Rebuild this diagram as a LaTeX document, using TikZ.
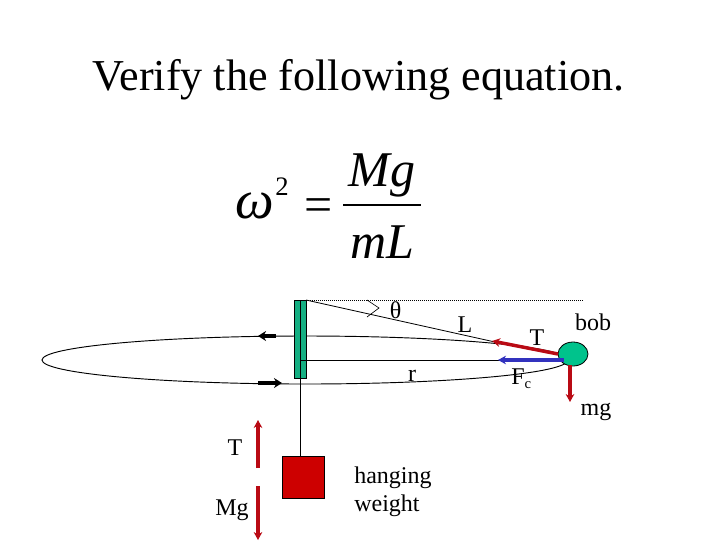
\documentclass[tikz,border=0pt]{standalone}
\usepackage{fontspec}
\setmainfont{Liberation Serif}
\usepackage{tikz}
\usetikzlibrary{calc,arrows.meta,shapes.geometric}
\definecolor{polegreen}{RGB}{20,175,130}
\definecolor{bobgreen}{RGB}{0,195,140}
\definecolor{forcered}{RGB}{185,10,20}
\definecolor{weightred}{RGB}{205,0,0}
\definecolor{forceblue}{RGB}{50,50,190}
\tikzset{
  lbl/.style={inner sep=0pt,font=\fontsize{18}{21}\selectfont},
  eqn/.style={inner sep=0pt,font=\fontsize{37.5}{40}\selectfont\itshape},
  force/.style={line width=2.6pt,-{Stealth[length=6pt,width=6.5pt]}},
  spin/.style={line width=2.5pt,black,-{Stealth[length=6pt,width=7.5pt]}}
}
\begin{document}
\begin{tikzpicture}[x=0.75pt,y=-0.75pt]
  \useasboundingbox (0,0) rectangle (720,540);
  \node[inner sep=0pt,font=\fontsize{33.1}{36}\selectfont] (title) at (358.5,80) {Verify the following equation.};
  % equation
  \node[eqn,anchor=base west,font=\fontsize{41}{44}\selectfont\itshape] (omega) at (235,218) {ω};
  \node[inner sep=0pt,font=\fontsize{20}{24}\selectfont,anchor=base west] (sq) at (275,195) {2};
  \node[inner sep=0pt,font=\fontsize{37.5}{40}\selectfont,anchor=base west] (eq) at (304,221) {=};
  \node[eqn,anchor=base] (Mg) at (382,186) {Mg};
  \node[eqn,anchor=base] (mL) at (382,258) {mL};
  \draw[line width=1.3pt] (343,205) coordinate(barL) -- (421,205) coordinate(barR);
  % orbit and pole
  \draw[line width=0.7pt] (305,360) ellipse (263 and 24);
  \fill[polegreen] (294.5,300) rectangle (306.5,378);
  \draw[line width=0.6pt] (294.5,300) rectangle (306.5,378);
  \draw[line width=0.6pt] (300.5,300) coordinate(top) -- (300.5,456) coordinate(hook);
  \draw[line width=0.6pt] (300.5,360) -- (563,360) coordinate(rEnd);
  \draw[densely dotted,line width=0.5pt] (306,300) coordinate(pivot) -- (583,300) coordinate(dotEnd);
  \draw[line width=0.6pt] (pivot) -- (495,342) coordinate(Lend);
  \draw[line width=0.5pt] (367,300) -- (379,308) -- (367,317);
  % bob
  \node[draw,fill=bobgreen,ellipse,minimum width=22.5pt,minimum height=18pt,inner sep=0pt,line width=0.6pt] (bob) at (573,354) {};
  \draw[force,forcered] (558,354) coordinate(tS) -- (492,341) coordinate(tE);
  \draw[force,forceblue] (564,360) coordinate(fS) -- (498,360) coordinate(fE);
  \draw[force,forcered] (570,365) coordinate(gS) -- (570,402) coordinate(gE);
  % rotation arrows
  \draw[spin] (276,336) coordinate(a1) -- (258,336) coordinate(a2);
  \draw[spin] (258,383) coordinate(b1) -- (282,383) coordinate(b2);
  % weight
  \node[draw,fill=weightred,minimum size=31.5pt,inner sep=0pt,line width=0.5pt] (weight) at (303,477) {};
  \draw[force,forcered] (258,468) coordinate(uS) -- (258,420) coordinate(uE);
  \draw[force,forcered] (258,486) coordinate(dS) -- (258,540) coordinate(dE);
  % labels
  \node[lbl] (theta) at (395.5,310) {θ};
  \node[lbl] (L) at (465,325) {L};
  \node[lbl] (Tb) at (537,338) {T};
  \node[lbl] (bobt) at (593,322) {bob};
  \node[lbl] (r) at (412,376) {r};
  \node[lbl,anchor=base west] (F) at (511,384) {F\raisebox{-3pt}{\fontsize{11}{12}\selectfont c}};
  \node[lbl] (mg) at (596,412) {mg};
  \node[lbl] (Tw) at (235,448) {T};
  \node[lbl] (Mgw) at (232,510) {Mg};
  \node[lbl,align=left,anchor=west,font=\fontsize{18}{21}\selectfont] (hang) at (354,492) {hanging\\weight};
\end{tikzpicture}
\end{document}
